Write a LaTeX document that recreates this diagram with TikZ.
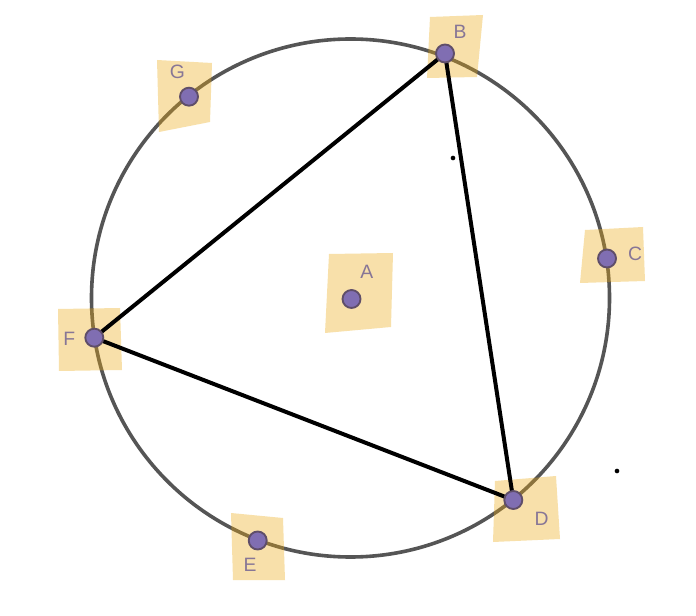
\documentclass[tikz,border=0pt]{standalone}
\usepackage{fontspec}
\setmainfont{Liberation Sans}
\begin{document}
\begin{tikzpicture}[x=0.75pt,y=-0.75pt,
  hl/.style={fill={rgb,255:red,237;green,170;blue,20},fill opacity=0.36,draw=none},
  pt/.style={circle,inner sep=0pt,minimum size=13.5pt,fill={rgb,255:red,128;green,110;blue,178},draw={rgb,255:red,95;green,78;blue,105},line width=1.4pt},
  lbl/.style={text={rgb,255:red,135;green,118;blue,150},font=\fontsize{14.5}{17}\selectfont,inner sep=0pt},
  dotsm/.style={circle,fill=black,inner sep=0pt,minimum size=3.5pt}]
\useasboundingbox (0,0) rectangle (696,616);
\fill[white] (0,0) rectangle (696,616);
\coordinate (O) at (350.5,298);
\draw[line width=2.7pt,draw={rgb,255:red,85;green,85;blue,85}] (O) circle (259);
% highlights
\path[hl] (430,17) -- (483,15) -- (477,77) -- (427,78) -- cycle;
\path[hl] (329,254) -- (393,253) -- (391,327) -- (325,333) -- cycle;
\path[hl] (495,481) -- (556,476) -- (560,539) -- (493,542) -- cycle;
\path[hl] (58,309) -- (120,308) -- (122,370) -- (59,371) -- cycle;
\path[hl] (157,60) -- (212,63) -- (210,122) -- (159,132) -- cycle;
\path[hl] (585,230) -- (643,227) -- (645,281) -- (580,283) -- cycle;
\path[hl] (231,513) -- (283,518) -- (285,580) -- (233,580) -- cycle;
% vertices
\coordinate (b) at (445,53.5);
\coordinate (d) at (513.3,500);
\coordinate (f) at (94.3,337.7);
\draw[line width=3pt,line join=round] (b) -- (d) -- (f) -- cycle;
% points
\node[pt] (A) at (351.5,299) {};
\node[pt] (B) at (b) {};
\node[pt] (C) at (607,258.5) {};
\node[pt] (D) at (d) {};
\node[pt] (E) at (257.7,540.5) {};
\node[pt] (F) at (f) {};
\node[pt] (G) at (189,96.7) {};
% labels
\node[lbl] (lA) at (366.7,271.5) {A};
\node[lbl] (lB) at (460,32) {B};
\node[lbl] (lC) at (635,253.5) {C};
\node[lbl] (lD) at (541.7,518.5) {D};
\node[lbl] (lE) at (250,565) {E};
\node[lbl] (lF) at (69.3,339) {F};
\node[lbl] (lG) at (177.5,72) {G};
% small dots
\node[dotsm] (p1) at (453,158) {};
\node[dotsm] (p2) at (617,471) {};
\end{tikzpicture}
\end{document}
